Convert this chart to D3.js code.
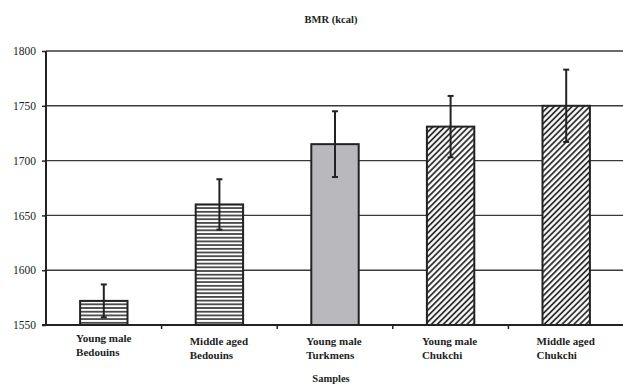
<!DOCTYPE html>
<html>
<head>
<meta charset="utf-8">
<script src="https://cdn.jsdelivr.net/npm/d3@7"></script>
<style>
  html, body { margin: 0; padding: 0; background: #fff; }
  svg { display: block; }
  text { font-family: "Liberation Serif", "Times New Roman", serif; fill: #222; }
</style>
</head>
<body>
<svg id="chart" width="623" height="384"></svg>
<script>
// BMR by sample group, with standard-deviation error bars
const categories = [
  ["Young male", "Bedouins"],
  ["Middle aged", "Bedouins"],
  ["Young male", "Turkmens"],
  ["Young male", "Chukchi"],
  ["Middle aged", "Chukchi"]
];
const bmrValues = [1572, 1660, 1715, 1731, 1750];
const bmrErrors = [15, 23, 30, 28, 33];
const fills = ["hstripe", "hstripe", "solid", "diag", "diag"];
const yTicks = [1550, 1600, 1650, 1700, 1750, 1800];

const svg = d3.select("#chart");
const margin = { left: 46, right: -1, top: 51, bottom: 59 };
const W = 623, H = 384;

const x = d3.scaleBand()
  .domain(d3.range(categories.length))
  .range([margin.left, W - margin.right])
  .paddingInner(0.59)
  .paddingOuter(0.295);

const xOuter = d3.scaleBand()
  .domain(d3.range(categories.length))
  .range([margin.left, W - margin.right]);

const y = d3.scaleLinear()
  .domain([1550, 1800])
  .range([H - margin.bottom, margin.top]);

// fill patterns
const defs = svg.append("defs");
const hs = defs.append("pattern")
  .attr("id", "hstripe").attr("patternUnits", "userSpaceOnUse")
  .attr("width", 8).attr("height", 3.7);
hs.append("rect").attr("width", 8).attr("height", 3.7).attr("fill", "#fff");
hs.append("line").attr("x1", 0).attr("x2", 8).attr("y1", 0.9).attr("y2", 0.9)
  .attr("stroke", "#222").attr("stroke-width", 1.5);

const dg = defs.append("pattern")
  .attr("id", "diag").attr("patternUnits", "userSpaceOnUse")
  .attr("width", 4.2).attr("height", 8)
  .attr("patternTransform", "rotate(45)");
dg.append("rect").attr("width", 4.2).attr("height", 8).attr("fill", "#fff");
dg.append("line").attr("x1", 1).attr("x2", 1).attr("y1", 0).attr("y2", 8)
  .attr("stroke", "#222").attr("stroke-width", 1.7);

// title
svg.append("text")
  .attr("x", 331).attr("y", 23)
  .attr("text-anchor", "middle")
  .attr("font-size", 10.5).attr("font-weight", "bold")
  .text("BMR (kcal)");

// horizontal gridlines
svg.append("g")
  .selectAll("line")
  .data(yTicks.slice(1))
  .join("line")
  .attr("x1", margin.left).attr("x2", W)
  .attr("y1", d => y(d)).attr("y2", d => y(d))
  .attr("stroke", "#3a3a3a").attr("stroke-width", 1.4);

// y axis
const yAxis = svg.append("g")
  .attr("transform", `translate(${margin.left},0)`)
  .call(d3.axisLeft(y).tickValues(yTicks).tickSize(4).tickPadding(6).tickFormat(d3.format("d")));
yAxis.select(".domain").attr("stroke", "#222").attr("stroke-width", 2)
  .attr("d", `M0,${y(1800)}V${y(1550)}`);
yAxis.selectAll(".tick line").attr("stroke", "#222").attr("stroke-width", 1.5);
yAxis.selectAll(".tick text")
  .attr("font-family", "'Liberation Serif', 'Times New Roman', serif")
  .attr("font-size", 11.5).attr("fill", "#333");

// x axis baseline with category boundary ticks
svg.append("line")
  .attr("x1", margin.left - 4).attr("x2", W)
  .attr("y1", y(1550)).attr("y2", y(1550))
  .attr("stroke", "#222").attr("stroke-width", 2);
svg.append("g")
  .selectAll("line")
  .data(d3.range(1, categories.length))
  .join("line")
  .attr("x1", d => xOuter(d)).attr("x2", d => xOuter(d))
  .attr("y1", y(1550)).attr("y2", y(1550) + 4)
  .attr("stroke", "#222").attr("stroke-width", 1.5);

// bars
svg.append("g")
  .selectAll("rect")
  .data(bmrValues)
  .join("rect")
  .attr("x", (d, i) => x(i))
  .attr("width", x.bandwidth())
  .attr("y", d => y(d))
  .attr("height", d => y(1550) - y(d))
  .attr("fill", (d, i) => fills[i] === "solid" ? "#b9b9bd" : `url(#${fills[i]})`)
  .attr("stroke", "#222").attr("stroke-width", 2);

// error bars
const eb = svg.append("g").attr("stroke", "#222").attr("stroke-width", 2);
bmrValues.forEach((v, i) => {
  const cx = x(i) + x.bandwidth() / 2;
  const e = bmrErrors[i];
  eb.append("line").attr("x1", cx).attr("x2", cx).attr("y1", y(v - e)).attr("y2", y(v + e));
  eb.append("line").attr("x1", cx - 3).attr("x2", cx + 3).attr("y1", y(v + e)).attr("y2", y(v + e));
  eb.append("line").attr("x1", cx - 3).attr("x2", cx + 3).attr("y1", y(v - e)).attr("y2", y(v - e));
});

// category labels
const labelShift = [-4, -6, -5, -5, -6];
const lbl = svg.append("g");
categories.forEach((lines, i) => {
  const lx = x(i) + labelShift[i];
  const t = lbl.append("text")
    .attr("x", lx)
    .attr("y", y(1550) + (i === 0 ? 17 : 20))
    .attr("font-size", 11).attr("font-weight", "bold");
  lines.forEach((s, k) => {
    t.append("tspan").attr("x", lx).attr("dy", k === 0 ? 0 : 13.5).text(s);
  });
});

// x axis title
svg.append("text")
  .attr("x", 331).attr("y", 382)
  .attr("text-anchor", "middle")
  .attr("font-size", 10.5).attr("font-weight", "bold")
  .text("Samples");
</script>
</body>
</html>
